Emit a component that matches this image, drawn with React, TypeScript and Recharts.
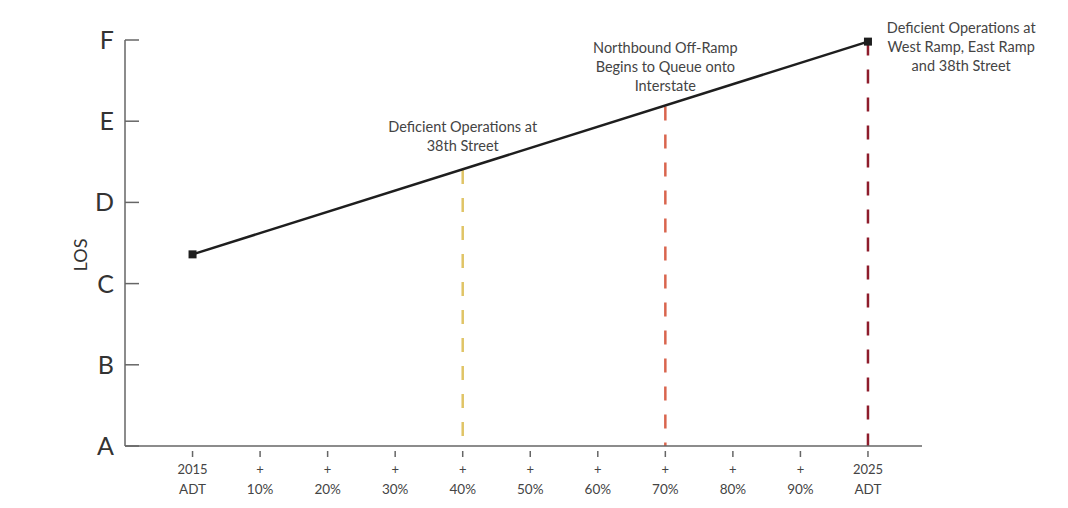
import React from 'react';
import { LineChart, Line, XAxis, YAxis, ReferenceLine, ReferenceDot } from 'recharts';

const xTicks = [0, 1, 2, 3, 4, 5, 6, 7, 8, 9, 10];
const xTickTop = ['2015', '+', '+', '+', '+', '+', '+', '+', '+', '+', '2025'];
const xTickBottom = ['ADT', '10%', '20%', '30%', '40%', '50%', '60%', '70%', '80%', '90%', 'ADT'];
const losTicks = [0, 1, 2, 3, 4, 5];
const losLabels = ['A', 'B', 'C', 'D', 'E', 'F'];

const lineX = [0, 10];
const lineLOS = [2.36, 4.98];

const thresholdX = [4, 7, 10];
const thresholdTop = [3.4, 4.18, 4.98];
const thresholdColors = ['#e0c466', '#d9654e', '#8e1d2c'];

const annotX = [4, 7, 11.38];
const annotLOS = [3.93, 4.9, 5.15];
const annotLines = [
  ['Deficient Operations at', '38th Street'],
  ['Northbound Off-Ramp', 'Begins to Queue onto', 'Interstate'],
  ['Deficient Operations at', 'West Ramp, East Ramp', 'and 38th Street'],
];

const data = lineX.map((x, i) => ({ x, los: lineLOS[i] }));
const FONT = 'Lato, "Open Sans", sans-serif';

const XTick = (props: any) => {
  const { x, y, payload } = props;
  const i = xTicks.indexOf(payload.value);
  return (
    <g>
      <line x1={x} x2={x} y1={y + 5} y2={y + 11} stroke="#666" strokeWidth={1.5} />
      <text x={x} y={y + 28} textAnchor="middle" fontSize={13} fill="#444" fontFamily={FONT}>
        {xTickTop[i]}
      </text>
      <text x={x} y={y + 48} textAnchor="middle" fontSize={13.5} fill="#444" fontFamily={FONT}>
        {xTickBottom[i]}
      </text>
    </g>
  );
};

const YTick = (props: any) => {
  const { x, y, payload } = props;
  const i = losTicks.indexOf(payload.value);
  return (
    <g>
      <line x1={x} x2={x + 14} y1={y} y2={y} stroke="#666" strokeWidth={1.5} />
      <text x={x - 11} y={y + 9} textAnchor="end" fontSize={25} fill="#333" fontFamily={FONT}>
        {losLabels[i]}
      </text>
    </g>
  );
};

const SquareDot = (props: any) => {
  const { cx, cy } = props;
  return <rect x={cx - 4} y={cy - 4} width={8} height={8} fill="#1e1e1e" />;
};

const makeAnnot = (lines: string[]) => (props: any) => {
  const { cx, cy } = props;
  return (
    <text textAnchor="middle" fontSize={14.5} fill="#444" fontFamily={FONT}>
      {lines.map((l, k) => (
        <tspan key={k} x={cx} y={cy + 5 + k * 19}>
          {l}
        </tspan>
      ))}
    </text>
  );
};

export default function App() {
  return (
    <div style={{ position: 'absolute', left: 0, top: 0, background: '#fff' }}>
      <LineChart width={1068} height={508} data={data} margin={{ top: 40, right: 146, bottom: 0, left: 0 }}>
        <XAxis
          dataKey="x"
          type="number"
          domain={[-1, 10.8]}
          ticks={xTicks}
          interval={0}
          height={62}
          tickSize={0}
          tickMargin={0}
          tickLine={false}
          tick={<XTick />}
          stroke="#666"
          strokeWidth={1.5}
        />
        <YAxis
          type="number"
          domain={[0, 5]}
          ticks={losTicks}
          interval={0}
          width={125}
          tickSize={0}
          tickMargin={0}
          tickLine={false}
          tick={<YTick />}
          stroke="#666"
          strokeWidth={1.5}
          label={{ value: 'LOS', angle: -90, position: 'insideLeft', dx: 76, dy: 12, style: { fontSize: 18, fill: '#333', fontFamily: FONT, textAnchor: 'middle' } }}
        />
        {thresholdX.map((tx, i) => (
          <ReferenceLine
            key={`t${i}`}
            segment={[{ x: tx, y: thresholdTop[i] }, { x: tx, y: 0 }]}
            stroke={thresholdColors[i]}
            strokeWidth={2.5}
            strokeDasharray="14 14"
          />
        ))}
        <Line
          dataKey="los"
          stroke="#1e1e1e"
          strokeWidth={2.5}
          isAnimationActive={false}
          dot={<SquareDot />}
          activeDot={false}
        />
        {annotX.map((ax, i) => (
          <ReferenceDot key={`a${i}`} x={ax} y={annotLOS[i]} r={0} ifOverflow="visible" shape={makeAnnot(annotLines[i])} />
        ))}
      </LineChart>
    </div>
  );
}
